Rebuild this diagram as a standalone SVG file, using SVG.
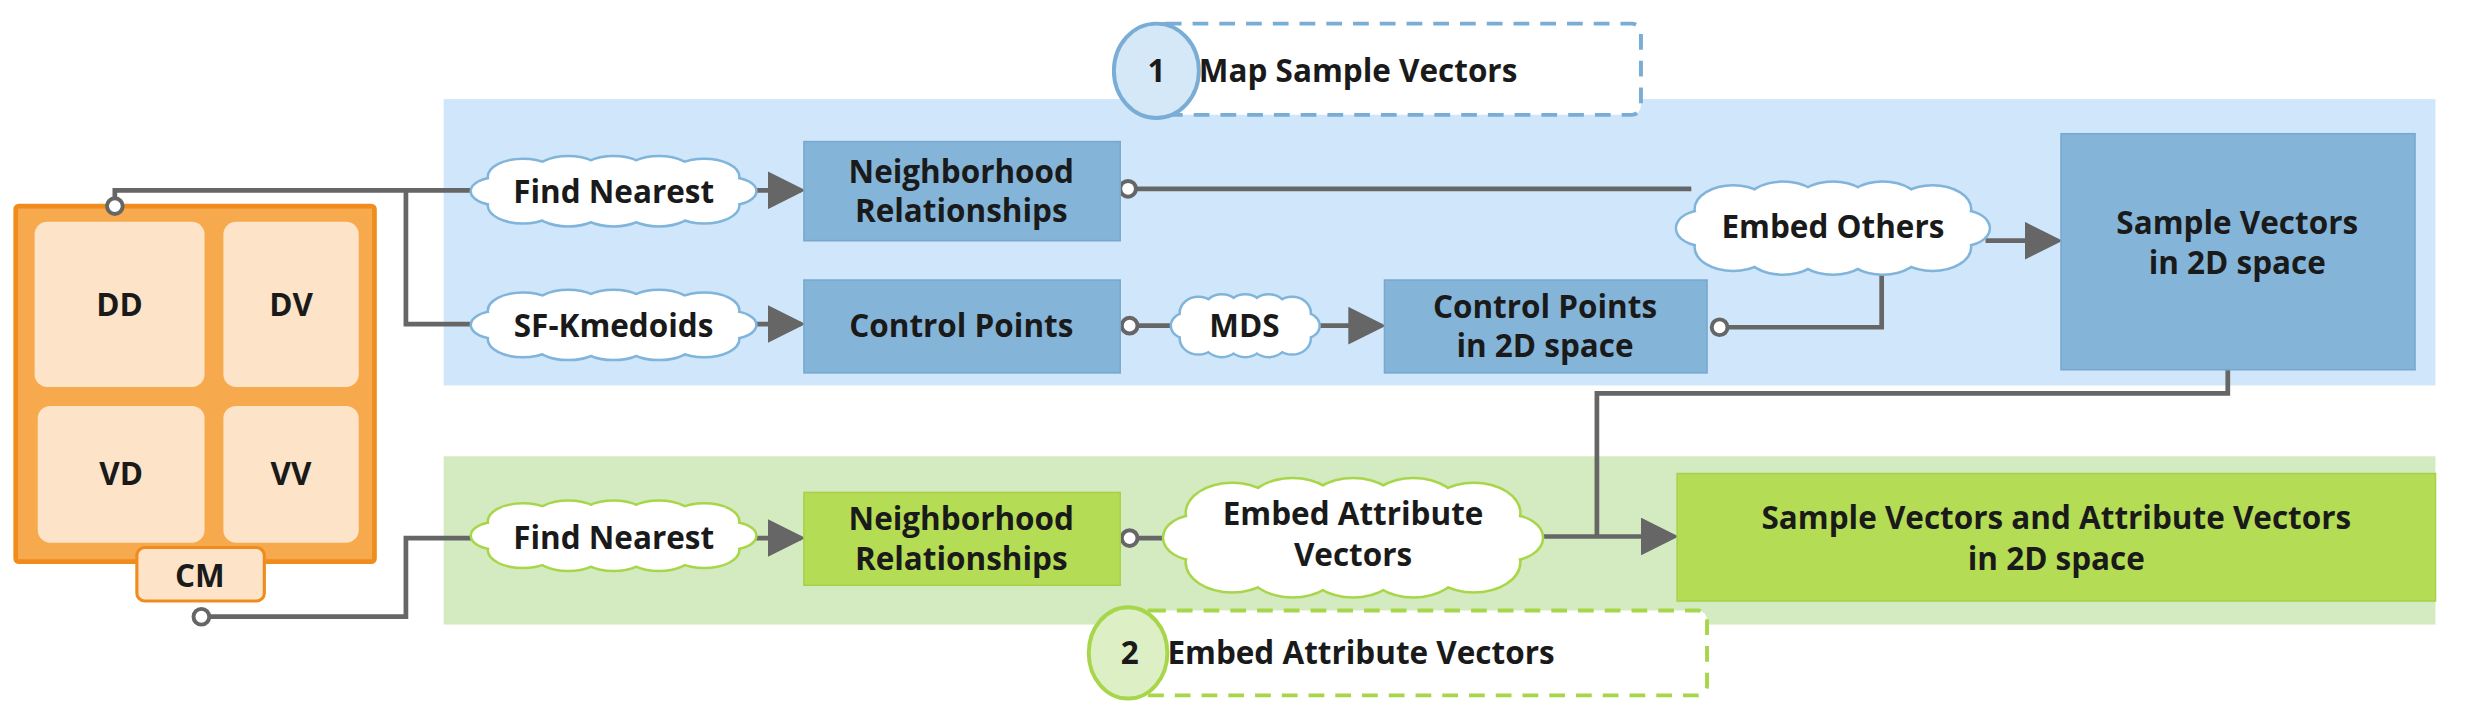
<svg xmlns="http://www.w3.org/2000/svg" xmlns:xlink="http://www.w3.org/1999/xlink" width="2467" height="722" viewBox="0 0 2467 722">
<style>
text{font-family:"Open Sans","DejaVu Sans",sans-serif;font-weight:bold;fill:#1a1a1a;text-anchor:middle;font-size:20px}
.bb{fill:#84b4d8;stroke:#78a8cf;stroke-width:1}
.gb{fill:#b5dc55;stroke:#a9d048;stroke-width:1}
.cb{fill:#fff;stroke:#80b4da;stroke-width:5}
.cg{fill:#fff;stroke:#a8d64a;stroke-width:5}
.cf{fill:#fff;stroke:none}
.ln{fill:none;stroke:#666;stroke-width:3}
.dot{fill:#fff;stroke:#666;stroke-width:2.5}
</style>
<defs>
<g id="cloud">
<ellipse cx="50" cy="25" rx="44" ry="16" vector-effect="non-scaling-stroke"/>
<circle cx="18" cy="15" r="12" vector-effect="non-scaling-stroke"/>
<circle cx="34" cy="13" r="12" vector-effect="non-scaling-stroke"/>
<circle cx="50" cy="13" r="12" vector-effect="non-scaling-stroke"/>
<circle cx="66" cy="13" r="12" vector-effect="non-scaling-stroke"/>
<circle cx="82" cy="15" r="12" vector-effect="non-scaling-stroke"/>
<circle cx="18" cy="35" r="12" vector-effect="non-scaling-stroke"/>
<circle cx="34" cy="37" r="12" vector-effect="non-scaling-stroke"/>
<circle cx="50" cy="37" r="12" vector-effect="non-scaling-stroke"/>
<circle cx="66" cy="37" r="12" vector-effect="non-scaling-stroke"/>
<circle cx="82" cy="35" r="12" vector-effect="non-scaling-stroke"/>
<circle cx="9" cy="25" r="9" vector-effect="non-scaling-stroke"/>
<circle cx="91" cy="25" r="9" vector-effect="non-scaling-stroke"/>
</g>
<marker id="ar" markerWidth="8" markerHeight="8" refX="7" refY="4" orient="auto" markerUnits="strokeWidth">
<path d="M0,0 L8,4 L0,8 Z" fill="#666"/>
</marker>
</defs>
<g transform="scale(1.5733)">
<g id="bands">
<rect x="282" y="63" width="1266" height="182" fill="#cfe6fb"/>
<rect x="282" y="290" width="1266" height="107" fill="#d4ebc2"/>
</g>
<g id="cm">
<rect x="10" y="131" width="228" height="226" fill="#f7a94e" stroke="#f08c1e" stroke-width="3" rx="2"/>
<rect x="22" y="141" width="108" height="105" rx="8" fill="#fde4c8"/>
<rect x="142" y="141" width="86" height="105" rx="8" fill="#fde4c8"/>
<rect x="24" y="258" width="106" height="87" rx="8" fill="#fde4c8"/>
<rect x="142" y="258" width="86" height="87" rx="8" fill="#fde4c8"/>
<text x="76" y="201">DD</text><text x="185" y="201">DV</text>
<text x="77" y="308">VD</text><text x="185" y="308">VV</text>
<rect x="87" y="348" width="81" height="34" rx="5" fill="#fde4c8" stroke="#f08c1e" stroke-width="2"/>
<text x="127" y="373">CM</text>
</g>
<g id="connectors">
<path class="ln" d="M73,130 V121 H300 M258,121 V206 H300"/>
<path class="ln" d="M128,392 H258 V342 H300"/>
<path class="ln" marker-end="url(#ar)" d="M480,121 H509"/>
<path class="ln" marker-end="url(#ar)" d="M480,206 H509"/>
<path class="ln" marker-end="url(#ar)" d="M480,342 H509"/>
<path class="ln" d="M717,120 H1075"/>
<path class="ln" d="M718,207 H748"/>
<path class="ln" marker-end="url(#ar)" d="M838,207 H878"/>
<path class="ln" d="M1093,208 H1196 V170"/>
<path class="ln" marker-end="url(#ar)" d="M1262,153 H1308"/>
<path class="ln" d="M718,342 H745"/>
<path class="ln" d="M1416,206 V250 H1015 V341"/>
<path class="ln" marker-end="url(#ar)" d="M978,341 H1064"/>
<circle class="dot" cx="73" cy="131" r="5"/>
<circle class="dot" cx="128" cy="392" r="5"/>
<circle class="dot" cx="717" cy="120" r="5"/>
<circle class="dot" cx="718" cy="207" r="5"/>
<circle class="dot" cx="1093" cy="208" r="5"/>
<circle class="dot" cx="1416" cy="206" r="5"/>
<circle class="dot" cx="718" cy="342" r="5"/>
</g>
<g id="find1"><use xlink:href="#cloud" class="cb" transform="translate(300,99) scale(1.8,0.9)"/><use xlink:href="#cloud" class="cf" transform="translate(300,99) scale(1.8,0.9)"/><text x="390" y="129">Find Nearest</text></g>
<g id="sfk"><use xlink:href="#cloud" class="cb" transform="translate(300,184) scale(1.8,0.9)"/><use xlink:href="#cloud" class="cf" transform="translate(300,184) scale(1.8,0.9)"/><text x="390" y="214">SF-Kmedoids</text></g>
<g id="mds"><use xlink:href="#cloud" class="cb" transform="translate(745,187) scale(0.93,0.8)"/><use xlink:href="#cloud" class="cf" transform="translate(745,187) scale(0.93,0.8)"/><text x="791" y="214">MDS</text></g>
<g id="embedothers"><use xlink:href="#cloud" class="cb" transform="translate(1066,115) scale(1.98,1.2)"/><use xlink:href="#cloud" class="cf" transform="translate(1066,115) scale(1.98,1.2)"/><text x="1165" y="151">Embed Others</text></g>
<g id="find2"><use xlink:href="#cloud" class="cg" transform="translate(300,318) scale(1.8,0.9)"/><use xlink:href="#cloud" class="cf" transform="translate(300,318) scale(1.8,0.9)"/><text x="390" y="349">Find Nearest</text></g>
<g id="embedattr"><use xlink:href="#cloud" class="cg" transform="translate(740,303) scale(2.4,1.55)"/><use xlink:href="#cloud" class="cf" transform="translate(740,303) scale(2.4,1.55)"/><text x="860" y="334">Embed Attribute</text><text x="860" y="360">Vectors</text></g>
<g id="nr1"><rect class="bb" x="511" y="90" width="201" height="63"/><text x="611" y="116">Neighborhood</text><text x="611" y="141">Relationships</text></g>
<g id="cp"><rect class="bb" x="511" y="178" width="201" height="59"/><text x="611" y="214">Control Points</text></g>
<g id="cp2d"><rect class="bb" x="880" y="178" width="205" height="59"/><text x="982" y="202">Control Points</text><text x="982" y="227">in 2D space</text></g>
<g id="sv2d"><rect class="bb" x="1310" y="85" width="225" height="150"/><text x="1422" y="149">Sample Vectors</text><text x="1422" y="174">in 2D space</text></g>
<g id="nr2"><rect class="gb" x="511" y="313" width="201" height="59"/><text x="611" y="337">Neighborhood</text><text x="611" y="362">Relationships</text></g>
<g id="svav"><rect class="gb" x="1066" y="301" width="482" height="81"/><text x="1307" y="336">Sample Vectors and Attribute Vectors</text><text x="1307" y="362">in 2D space</text></g>
<g id="label1">
<rect x="735" y="15" width="308" height="58" rx="6" fill="#fff" stroke="#7aadd5" stroke-width="2.5" stroke-dasharray="10,7"/>
<ellipse cx="735" cy="45" rx="27" ry="30" fill="#d4e8f8" stroke="#7aadd5" stroke-width="2.5"/>
<text x="735" y="52">1</text>
<text x="762" y="52" style="text-anchor:start">Map Sample Vectors</text>
</g>
<g id="label2">
<rect x="725" y="388" width="360" height="54" rx="6" fill="#fff" stroke="#a8d64a" stroke-width="2.5" stroke-dasharray="10,7"/>
<ellipse cx="717" cy="415" rx="25" ry="29" fill="#dcefc5" stroke="#a8d64a" stroke-width="2.5"/>
<text x="718" y="422">2</text>
<text x="742" y="422" style="text-anchor:start">Embed Attribute Vectors</text>
</g>
</g>
</svg>
